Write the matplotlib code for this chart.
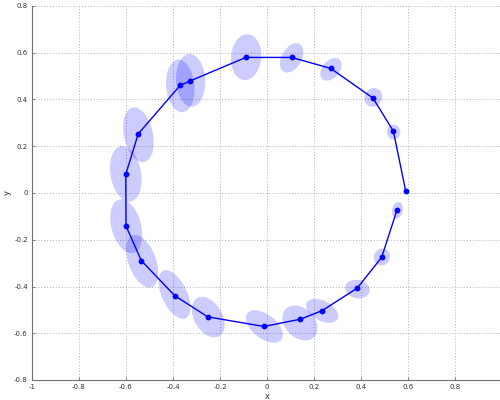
import matplotlib
matplotlib.use("Agg")
import matplotlib.pyplot as plt
from matplotlib.patches import Ellipse

# trajectory points (in drawing order)
px = [0.590, 0.538, 0.451, 0.271, 0.105, -0.090, -0.326, -0.370, -0.548, -0.601,
      -0.600, -0.535, -0.393, -0.252, -0.013, 0.142, 0.235, 0.384, 0.488, 0.553]
py = [0.009, 0.264, 0.406, 0.533, 0.580, 0.580, 0.480, 0.460, 0.253, 0.080,
      -0.141, -0.289, -0.439, -0.530, -0.571, -0.540, -0.503, -0.407, -0.275, -0.073]

# uncertainty ellipses: centre, major axis, minor axis, angle (deg)
ex = [0.539, 0.452, 0.272, 0.105, -0.089, -0.325, -0.369, -0.547, -0.601,
      -0.599, -0.531, -0.394, -0.250, -0.011, 0.140, 0.235, 0.385, 0.489, 0.555]
ey = [0.261, 0.409, 0.529, 0.578, 0.581, 0.482, 0.458, 0.249, 0.082,
      -0.142, -0.292, -0.434, -0.531, -0.571, -0.556, -0.504, -0.411, -0.274, -0.073]
emaj = [0.064, 0.082, 0.111, 0.136, 0.197, 0.226, 0.226, 0.238, 0.240,
        0.236, 0.236, 0.225, 0.188, 0.183, 0.170, 0.149, 0.106, 0.074, 0.071]
emin = [0.058, 0.074, 0.073, 0.085, 0.128, 0.124, 0.120, 0.123, 0.130,
        0.126, 0.117, 0.107, 0.120, 0.102, 0.125, 0.085, 0.078, 0.068, 0.045]
eang = [90, 60, 50, 60, 85, 93, 95, 102, 100,
        105, 110, 115, 120, 142, 135, 152, 170, 60, 80]

xticks = [-1, -0.8, -0.6, -0.4, -0.2, 0, 0.2, 0.4, 0.6, 0.8]
yticks = [-0.8, -0.6, -0.4, -0.2, 0, 0.2, 0.4, 0.6, 0.8]

fig = plt.figure(figsize=(5, 4), dpi=100)
ax = fig.add_axes([0.064, 0.05, 0.94, 0.935])

for cx, cy, w, h, a in zip(ex, ey, emaj, emin, eang):
    ax.add_patch(Ellipse((cx, cy), w, h, angle=a, facecolor=(0, 0, 1),
                         alpha=0.2, edgecolor="none", zorder=2))

ax.plot(px, py, color=(0, 0, 1), lw=1.0, marker="o", markersize=4.2,
        markeredgewidth=0, zorder=3)

ax.set_xlim(-1, 1)
ax.set_ylim(-0.8, 0.8)
ax.set_xticks(xticks)
ax.set_yticks(yticks)
ax.set_xticklabels([f"{t:g}" for t in xticks])
ax.set_yticklabels([f"{t:g}" for t in yticks])
ax.grid(True, linestyle=(0, (1, 2)), color="#b0b0b0", linewidth=0.7)
for s in ["top", "right"]:
    ax.spines[s].set_visible(False)
for s in ["left", "bottom"]:
    ax.spines[s].set_color("#707070")
    ax.spines[s].set_linewidth(0.8)
ax.tick_params(direction="in", length=2.5, width=0.6, colors="#707070",
               labelsize=5, labelcolor="#333333", pad=3)
ax.set_xlabel("x", fontsize=6, color="#333333", labelpad=1)
ax.set_ylabel("y", fontsize=6, color="#333333", labelpad=2)

fig.savefig("out.png", dpi=100)
